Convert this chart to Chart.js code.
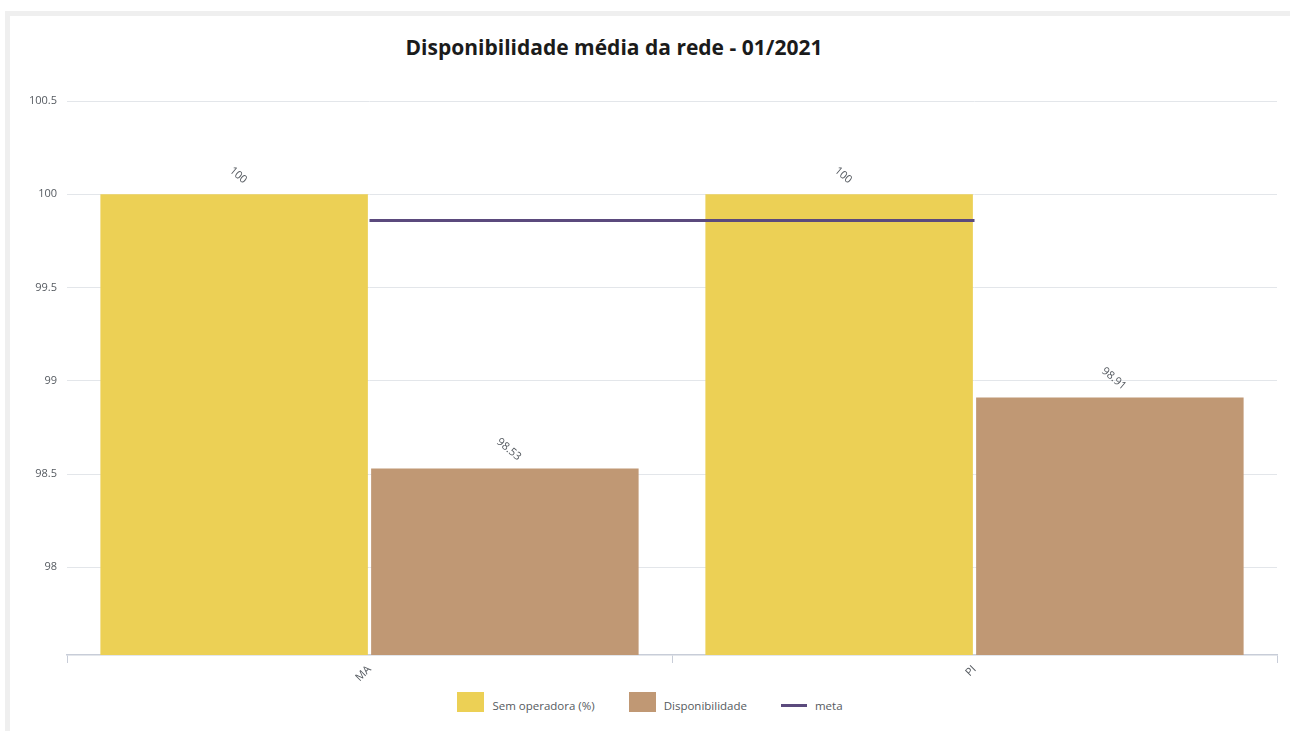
<!DOCTYPE html>
<html lang="pt-BR">
<head>
    <meta charset="UTF-8">
    <meta name="viewport" content="width=device-width, initial-scale=1.0">
    <title>Disponibilidade média da rede</title>
    <script src="https://cdn.jsdelivr.net/npm/chart.js@4.4.1/dist/chart.umd.min.js"></script>
    <style>
        :root {
            --frame: #efefef;
            --text-main: #1b1b1b;
            --text-soft: #555a60;
            --yellow: #ecd055;
            --brown: #c09874;
            --purple: #5b4a7d;
        }

        * {
            margin: 0;
            padding: 0;
            box-sizing: border-box;
        }

        body {
            background: #ffffff;
            width: 1290px;
            height: 731px;
            overflow: hidden;
            position: relative;
            font-family: "Open Sans", Lato, Arial, sans-serif;
        }

        .card {
            position: absolute;
            left: 5px;
            top: 11px;
            width: 1320px;
            height: 760px;
            border: 5px solid var(--frame);
            background: #ffffff;
        }

        .chart-title {
            position: absolute;
            left: 0;
            top: 33px;
            width: 1228px;
            text-align: center;
            font-size: 21px;
            line-height: 28px;
            font-weight: 700;
            color: var(--text-main);
        }

        .chart-box {
            position: absolute;
            left: 10px;
            top: 15px;
            width: 1280px;
            height: 675px;
        }

        .legend {
            position: absolute;
            left: 10px;
            top: 692px;
            width: 1280px;
            display: flex;
            justify-content: center;
            gap: 34px;
        }

        .legend-item {
            display: flex;
            align-items: flex-end;
            gap: 8px;
            height: 20px;
            font-size: 11.5px;
            line-height: 13px;
            color: var(--text-soft);
        }

        .legend-box {
            width: 27px;
            height: 20px;
        }

        .legend-line {
            width: 26px;
            height: 3px;
            margin-bottom: 5px;
        }
    </style>
</head>
<body>
    <div class="card"></div>
    <div class="chart-title">Disponibilidade média da rede - 01/2021</div>
    <div class="chart-box">
        <canvas id="dispChart"></canvas>
    </div>
    <div id="legend" class="legend"></div>

    <script>
        // Chart data
        const states = ['MA', 'PI'];
        const semOperadora = [100, 100];
        const disponibilidade = [98.53, 98.91];
        const meta = [99.86, 99.86];
        const yTicks = [98, 98.5, 99, 99.5, 100, 100.5];

        const seriesNames = ['Sem operadora (%)', 'Disponibilidade', 'meta'];
        const seriesColors = ['#ecd055', '#c09874', '#5b4a7d'];

        const FONT = '"Open Sans", Lato, Arial, sans-serif';

        // Rotated value labels above each bar
        const valueLabels = {
            id: 'valueLabels',
            afterDatasetsDraw(chart) {
                const ctx = chart.ctx;
                chart.data.datasets.forEach((ds, i) => {
                    if (ds.type === 'line') return;
                    const meta = chart.getDatasetMeta(i);
                    meta.data.forEach((bar, j) => {
                        ctx.save();
                        ctx.translate(bar.x + 4, bar.y - 19);
                        ctx.rotate(40 * Math.PI / 180);
                        ctx.font = '11px ' + FONT;
                        ctx.fillStyle = '#555a60';
                        ctx.textAlign = 'center';
                        ctx.textBaseline = 'middle';
                        ctx.fillText(String(ds.data[j]), 0, 0);
                        ctx.restore();
                    });
                });
            }
        };

        function createChart() {
            const ctx = document.getElementById('dispChart').getContext('2d');
            Chart.defaults.font.family = FONT;
            Chart.defaults.font.size = 11;
            Chart.defaults.color = '#555a60';

            new Chart(ctx, {
                type: 'bar',
                data: {
                    labels: states,
                    datasets: [{
                        label: seriesNames[0],
                        data: semOperadora,
                        backgroundColor: seriesColors[0],
                        order: 1
                    }, {
                        label: seriesNames[1],
                        data: disponibilidade,
                        backgroundColor: seriesColors[1],
                        order: 1
                    }, {
                        type: 'line',
                        label: seriesNames[2],
                        data: meta,
                        borderColor: seriesColors[2],
                        borderWidth: 3,
                        pointRadius: 0,
                        fill: false,
                        order: 0
                    }]
                },
                options: {
                    responsive: true,
                    maintainAspectRatio: false,
                    animation: false,
                    categoryPercentage: 0.895,
                    barPercentage: 0.988,
                    layout: {
                        padding: { top: 86, right: 13, left: 0, bottom: 0 }
                    },
                    scales: {
                        x: {
                            grid: {
                                offset: true,
                                drawOnChartArea: false,
                                drawTicks: true,
                                tickLength: 8,
                                color: '#c8cdd8'
                            },
                            border: {
                                display: true,
                                color: '#c8cdd8',
                                width: 1.5
                            },
                            ticks: {
                                minRotation: 45,
                                maxRotation: 45,
                                padding: 0
                            },
                            afterFit: (scale) => { scale.height = 35; }
                        },
                        y: {
                            min: 97.53,
                            max: 100.5,
                            afterBuildTicks: (axis) => {
                                axis.ticks = yTicks.map(v => ({ value: v }));
                            },
                            grid: {
                                drawTicks: false,
                                color: '#e3e6ea'
                            },
                            border: { display: false },
                            ticks: {
                                padding: 10,
                                callback: (v) => String(v)
                            },
                            afterFit: (scale) => { scale.width = 57; }
                        }
                    },
                    plugins: {
                        legend: { display: false },
                        tooltip: { enabled: false }
                    }
                },
                plugins: [valueLabels]
            });
        }

        // Legend below the chart
        function buildLegend() {
            const legend = document.getElementById('legend');
            seriesNames.forEach((name, i) => {
                const item = document.createElement('div');
                item.className = 'legend-item';
                const mark = document.createElement('div');
                mark.className = i === 2 ? 'legend-line' : 'legend-box';
                mark.style.background = seriesColors[i];
                const text = document.createElement('span');
                text.textContent = name;
                item.appendChild(mark);
                item.appendChild(text);
                legend.appendChild(item);
            });
        }

        createChart();
        buildLegend();
    </script>
</body>
</html>
